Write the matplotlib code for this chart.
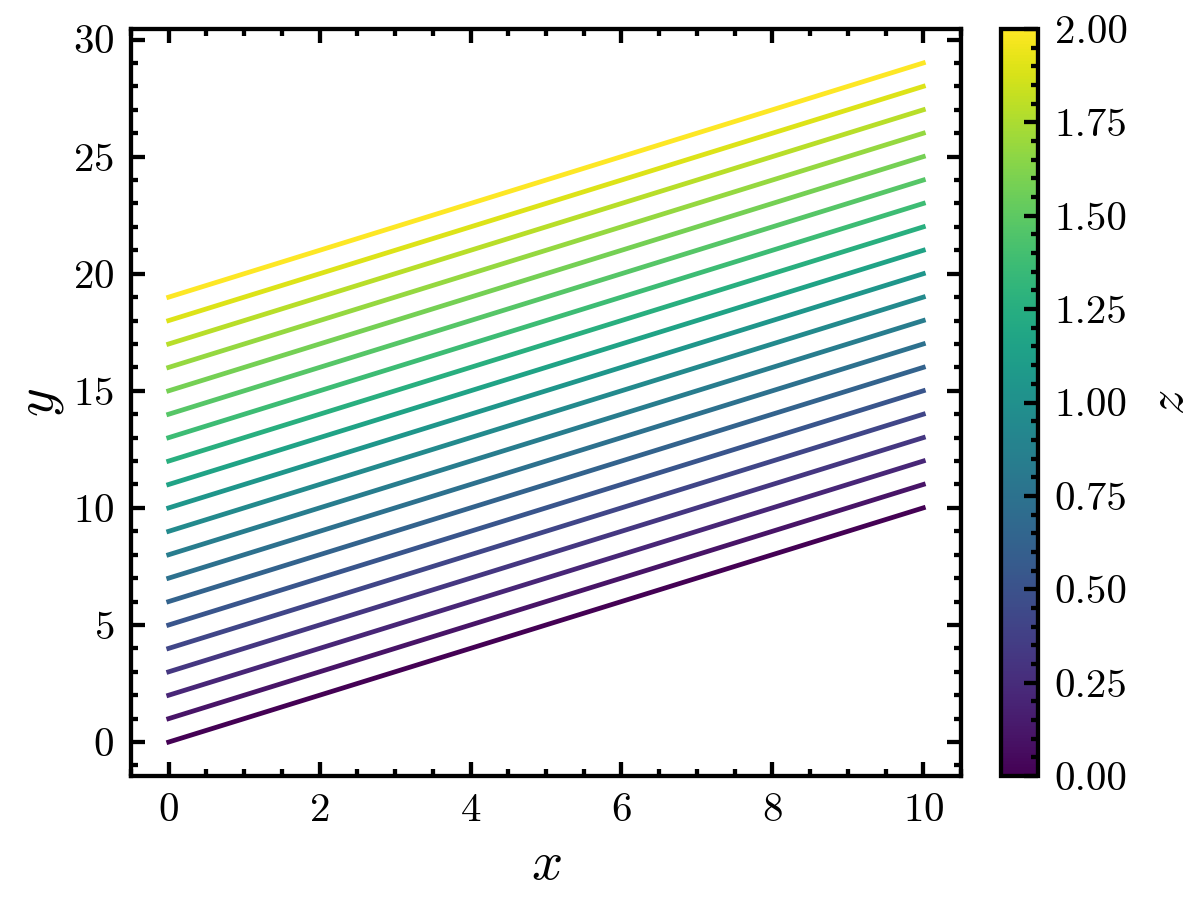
import numpy as np
import matplotlib
matplotlib.use("Agg")
import matplotlib.pyplot as plt
from matplotlib.ticker import AutoMinorLocator, FormatStrFormatter

# Data
x_vals = [0, 10]
y_start = [0, 1, 2, 3, 4, 5, 6, 7, 8, 9, 10, 11, 12, 13, 14, 15, 16, 17, 18, 19]
y_end = [10, 11, 12, 13, 14, 15, 16, 17, 18, 19, 20, 21, 22, 23, 24, 25, 26, 27, 28, 29]
z_vals = [0.0, 0.105, 0.211, 0.316, 0.421, 0.526, 0.632, 0.737, 0.842, 0.947,
          1.053, 1.158, 1.263, 1.368, 1.474, 1.579, 1.684, 1.789, 1.895, 2.0]
z_min, z_max = 0.0, 2.0
cbar_ticks = [0.0, 0.25, 0.5, 0.75, 1.0, 1.25, 1.5, 1.75, 2.0]

plt.rcParams.update({
    "font.family": "serif",
    "font.serif": ["cmr10"],
    "mathtext.fontset": "cm",
    "axes.formatter.use_mathtext": True,
    "font.size": 8.6,
    "axes.linewidth": 0.9,
    "xtick.major.width": 0.9,
    "ytick.major.width": 0.9,
    "xtick.minor.width": 0.9,
    "ytick.minor.width": 0.9,
    "xtick.major.size": 3,
    "ytick.major.size": 3,
    "xtick.minor.size": 1.5,
    "ytick.minor.size": 1.5,
    "xtick.direction": "in",
    "ytick.direction": "in",
})

dpi = 343.4
fig = plt.figure(figsize=(1202 / dpi, 904 / dpi), dpi=dpi)
ax = fig.add_axes([0.109, 0.1416, 0.6905, 0.8263])
cax = fig.add_axes([0.8328, 0.1416, 0.0308, 0.8263])

cmap = plt.get_cmap("viridis")
norm = matplotlib.colors.Normalize(vmin=z_min, vmax=z_max)
for ys, ye, z in zip(y_start, y_end, z_vals):
    ax.plot(x_vals, [ys, ye], color=cmap(norm(z)), lw=1.0)

ax.set_xlabel("$x$", fontsize=11.5, labelpad=2.5)
ax.set_ylabel("$y$", fontsize=11.5, labelpad=1.5)
ax.xaxis.set_minor_locator(AutoMinorLocator())
ax.yaxis.set_minor_locator(AutoMinorLocator())
ax.tick_params(which="both", top=True, right=True)

sm = matplotlib.cm.ScalarMappable(norm=norm, cmap=cmap)
cb = fig.colorbar(sm, cax=cax, ticks=cbar_ticks)
cb.ax.yaxis.set_major_formatter(FormatStrFormatter("%.2f"))
cb.ax.yaxis.set_minor_locator(AutoMinorLocator())
cb.ax.tick_params(which="both", direction="in", right=True, left=False)
cb.outline.set_linewidth(0.9)
cb.set_label("$z$", fontsize=10.5)

fig.savefig("out.png", dpi=dpi)
